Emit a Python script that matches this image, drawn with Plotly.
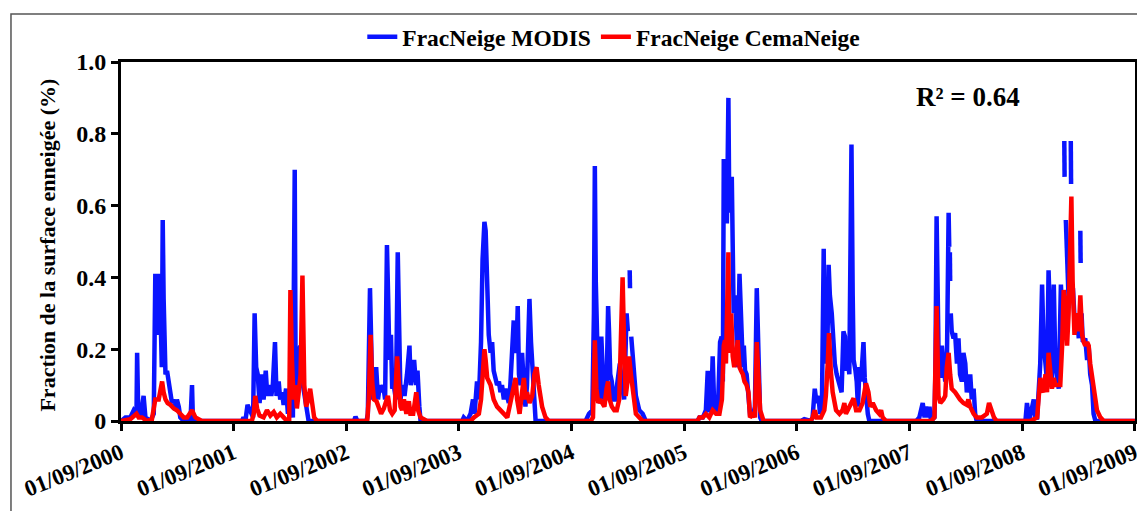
import pandas as pd
import plotly.graph_objects as go

# Season start years (each season runs from 01/09 of that year)
season_years = [2000, 2001, 2002, 2003, 2004, 2005, 2006, 2007, 2008]

# ---- FracNeige MODIS: day offsets from 01/09 and snow cover fraction ----
modis_days_2000 = [0, 14, 30, 41, 50, 52, 55, 63, 73, 79, 95, 106, 111, 117, 122, 127, 132, 135, 138, 144, 149, 154, 160, 165, 171, 176, 181, 187, 192, 203, 225, 230, 233]
modis_vals_2000 = [0, 0.01, 0.01, 0.03, 0.02, 0.19, 0.05, 0.01, 0.07, 0.01, 0, 0.02, 0.41, 0.24, 0.41, 0.34, 0.15, 0.56, 0.34, 0.13, 0.14, 0.11, 0.09, 0.05, 0.06, 0.03, 0.06, 0.04, 0.01, 0, 0, 0.10, 0]

modis_days_2001 = [0, 27, 32, 38, 45, 52, 63, 68, 73, 78, 84, 92, 97, 104, 109, 114, 122, 127, 134, 139, 146, 151, 157, 162, 170, 176, 184, 192, 198, 201, 205, 211, 216, 221, 229, 238, 243]
modis_vals_2001 = [0, 0, 0.01, 0, 0.045, 0.03, 0.01, 0.30, 0.15, 0.13, 0.05, 0.13, 0.06, 0.14, 0.07, 0.10, 0.07, 0.10, 0.22, 0.07, 0.11, 0.06, 0.08, 0.045, 0.09, 0.02, 0.08, 0.01, 0.70, 0.10, 0.06, 0.19, 0.21, 0.12, 0.07, 0.02, 0]

modis_days_2002 = [0, 25, 30, 36, 66, 70, 77, 81, 85, 92, 97, 103, 109, 114, 120, 126, 132, 136, 140, 145, 149, 154, 161, 167, 172, 176, 181, 189, 197, 205, 209, 215, 220, 226, 231, 237, 241]
modis_vals_2002 = [0, 0, 0.012, 0, 0, 0.02, 0.37, 0.10, 0.06, 0.08, 0.15, 0.06, 0.10, 0.08, 0.10, 0.06, 0.49, 0.34, 0.17, 0.24, 0.09, 0.10, 0.06, 0.47, 0.17, 0.06, 0.10, 0.07, 0.13, 0.21, 0.10, 0.15, 0.17, 0.10, 0.14, 0.04, 0]

modis_days_2003 = [0, 11, 16, 27, 38, 46, 51, 59, 65, 72, 77, 83, 87, 92, 97, 103, 108, 113, 119, 124, 130, 135, 140, 146, 151, 157, 162, 167, 173, 178, 181, 187, 191, 195, 200, 205, 211, 216, 221, 229, 234, 240, 245, 249]
modis_vals_2003 = [0, 0, 0.01, 0, 0.02, 0.06, 0.02, 0.11, 0.06, 0.22, 0.45, 0.555, 0.53, 0.33, 0.24, 0.19, 0.22, 0.14, 0.11, 0.10, 0.11, 0.08, 0.10, 0.06, 0.09, 0.07, 0.05, 0.10, 0.22, 0.28, 0.21, 0.19, 0.32, 0.13, 0.10, 0.19, 0.10, 0.04, 0.10, 0.34, 0.22, 0.13, 0.06, 0]

modis_days_2004 = [0, 45, 56, 67, 72, 75, 78, 81, 87, 92, 96, 102, 107, 113, 118, 121, 125, 130, 135, 141, 146, 152, 156, 161, 170, 178, 182, 185, 188, 189, 190, 193, 197, 203, 208, 219, 230, 240]
modis_vals_2004 = [0, 0, 0.02, 0.03, 0.30, 0.71, 0.39, 0.22, 0.07, 0.05, 0.235, 0.11, 0.06, 0.09, 0.32, 0.25, 0.13, 0.11, 0.06, 0.06, 0.09, 0.14, 0.16, 0.11, 0.06, 0.30, 0.25, None, 0.42, 0.37, None, 0.235, 0.18, 0.11, 0.07, 0.03, 0.02, 0]

modis_days_2005 = [0, 43, 49, 60, 65, 70, 76, 81, 87, 92, 97, 103, 109, 116, 121, 125, 128, 131, 134, 138, 140, 143, 146, 149, 154, 157, 160, 165, 169, 173, 179, 184, 190, 193, 197, 202, 208, 213, 224, 229, 235, 240, 246, 251]
modis_vals_2005 = [0, 0, 0.01, 0.01, 0.02, 0.03, 0.14, 0.03, 0.03, 0.18, 0.04, 0.02, 0.03, 0.22, 0.235, 0.11, 0.73, 0.65, 0.71, 0.55, 0.67, 0.90, 0.58, 0.67, 0.68, 0.49, 0.30, 0.35, 0.26, 0.15, 0.41, 0.30, 0.15, 0.21, 0.14, 0.13, 0.06, 0.02, 0.02, 0.04, 0.37, 0.19, 0.01, 0]

modis_days_2006 = [0, 13, 24, 45, 51, 58, 64, 70, 75, 81, 87, 90, 94, 99, 103, 107, 113, 118, 123, 129, 134, 140, 145, 151, 156, 159, 165, 170, 177, 181, 184, 190, 194, 198, 203, 208, 216, 220, 224, 230, 235]
modis_vals_2006 = [0, 0, 0.005, 0, 0.01, 0.09, 0.05, 0.07, 0.02, 0.03, 0.48, 0.16, 0.25, 0.21, 0.435, 0.35, 0.30, 0.21, 0.16, 0.13, 0.11, 0.10, 0.08, 0.25, 0.235, 0.14, 0.18, 0.13, 0.77, 0.35, 0.17, 0.14, 0.11, 0.04, 0.15, 0.11, 0.22, 0.12, 0.07, 0.02, 0]

modis_days_2007 = [0, 22, 32, 43, 49, 54, 60, 65, 70, 81, 84, 88, 94, 100, 105, 110, 116, 121, 127, 129, 130, 131, 132, 133, 134, 137, 143, 148, 154, 159, 164, 170, 175, 181, 186, 191, 197, 202, 208, 213, 218]
modis_vals_2007 = [0, 0, 0.01, 0.05, 0.01, 0.04, 0.01, 0.04, 0, 0.01, 0.13, 0.57, 0.21, 0.12, 0.21, 0.16, 0.11, 0.13, 0.58, 0.485, None, 0.47, 0.39, None, 0.30, 0.25, 0.23, 0.245, 0.16, 0.23, 0.13, 0.11, 0.19, 0.16, 0.08, 0.10, 0.13, 0.06, 0.09, 0.02, 0]

modis_days_2008 = [0, 10, 15, 18, 22, 37, 42, 48, 53, 58, 64, 69, 75, 80, 85, 91, 96, 102, 107, 112, 118, 125, 132, 134, 136, 137, 138, 141, 145, 150, 155, 157, 158, 160, 164, 169, 172, 177, 183, 186, 188, 189, 190, 192, 196, 204, 210, 215, 220, 226, 231, 237]
modis_vals_2008 = [0, 0, 0.05, 0.01, 0, 0.06, 0.01, 0.01, 0.08, 0.16, 0.38, 0.21, 0.16, 0.11, 0.42, 0.25, 0.11, 0.38, 0.16, 0.13, 0.09, 0.38, 0.24, None, 0.78, 0.68, None, 0.56, 0.41, 0.34, None, 0.78, 0.66, None, 0.37, 0.30, 0.24, 0.30, 0.23, None, 0.53, 0.44, None, 0.30, 0.22, 0.23, 0.17, 0.21, 0.13, 0.10, 0.02, 0]

# ---- FracNeige CemaNeige ----
cema_days_2000 = [0, 30, 50, 57, 68, 84, 100, 111, 122, 133, 138, 144, 151, 160, 171, 181, 192, 203, 214, 230, 241, 252, 262]
cema_vals_2000 = [0, 0.005, 0.02, 0.01, 0.01, 0, 0.005, 0.06, 0.06, 0.11, 0.08, 0.06, 0.05, 0.045, 0.035, 0.03, 0.02, 0.01, 0.01, 0.03, 0.01, 0.005, 0]

cema_days_2001 = [0, 59, 65, 70, 76, 84, 97, 108, 119, 130, 140, 151, 162, 173, 180, 184, 189, 194, 200, 205, 211, 217, 223, 229, 235, 242, 248, 254, 261, 270]
cema_vals_2001 = [0, 0, 0.02, 0.07, 0.035, 0.015, 0.01, 0.03, 0.015, 0.025, 0.01, 0.02, 0.01, 0, 0, 0.365, 0.17, 0.06, 0.10, 0.035, 0.08, 0.13, 0.405, 0.10, 0.04, 0.06, 0.09, 0.04, 0.01, 0]

cema_days_2002 = [0, 68, 73, 79, 84, 90, 98, 106, 113, 122, 129, 135, 142, 149, 157, 165, 171, 176, 181, 187, 195, 203, 208, 217, 227, 233, 241, 252, 262]
cema_vals_2002 = [0, 0, 0.06, 0.24, 0.11, 0.06, 0.055, 0.04, 0.02, 0.035, 0.06, 0.07, 0.03, 0.02, 0.03, 0.18, 0.10, 0.04, 0.03, 0.06, 0.02, 0.055, 0.02, 0.02, 0.08, 0.03, 0.01, 0.005, 0]

cema_days_2003 = [0, 38, 49, 65, 72, 77, 83, 87, 92, 103, 113, 124, 135, 146, 157, 167, 178, 184, 189, 197, 205, 211, 216, 221, 229, 238, 245, 252, 259, 270, 281, 292]
cema_vals_2003 = [0, 0, 0.01, 0.02, 0.06, 0.13, 0.20, 0.17, 0.12, 0.10, 0.06, 0.04, 0.03, 0.02, 0.01, 0.05, 0.10, 0.12, 0.06, 0.02, 0.08, 0.12, 0.06, 0.08, 0.05, 0.07, 0.13, 0.15, 0.10, 0.04, 0.01, 0]

cema_days_2004 = [0, 62, 69, 75, 80, 86, 92, 100, 106, 113, 118, 123, 130, 138, 146, 154, 159, 165, 170, 175, 181, 186, 192, 197, 203, 208, 219, 230]
cema_vals_2004 = [0, 0, 0.01, 0.225, 0.09, 0.05, 0.06, 0.05, 0.04, 0.09, 0.11, 0.06, 0.04, 0.03, 0.03, 0.06, 0.21, 0.40, 0.21, 0.07, 0.11, 0.18, 0.13, 0.10, 0.05, 0.02, 0.01, 0]

cema_days_2005 = [0, 43, 49, 60, 70, 81, 92, 103, 114, 122, 128, 132, 135, 140, 143, 146, 149, 152, 157, 162, 168, 173, 179, 184, 190, 195, 202, 208, 213, 224, 229, 235, 240, 246, 257]
cema_vals_2005 = [0, 0, 0.01, 0.01, 0.02, 0.01, 0.03, 0.02, 0.02, 0.06, 0.21, 0.225, 0.16, 0.30, 0.47, 0.21, 0.19, 0.30, 0.18, 0.15, 0.18, 0.225, 0.15, 0.14, 0.13, 0.11, 0.10, 0.08, 0.01, 0.02, 0.01, 0.22, 0.11, 0.03, 0]

cema_days_2006 = [0, 45, 51, 58, 64, 78, 89, 94, 100, 104, 110, 116, 127, 138, 148, 154, 159, 170, 179, 184, 192, 203, 213, 224, 232, 238, 246, 257, 267, 273, 278, 289]
cema_vals_2006 = [0, 0, 0.01, 0.03, 0.01, 0.01, 0.03, 0.07, 0.16, 0.245, 0.14, 0.08, 0.03, 0.02, 0.03, 0.05, 0.02, 0.04, 0.06, 0.063, 0.03, 0.03, 0.05, 0.105, 0.08, 0.04, 0.05, 0.03, 0.02, 0.03, 0.01, 0]

cema_days_2007 = [0, 70, 81, 84, 88, 94, 100, 110, 116, 121, 127, 132, 137, 148, 154, 164, 175, 186, 191, 197, 208, 218, 235, 251, 258, 267, 274, 283]
cema_vals_2007 = [0, 0, 0.01, 0.11, 0.32, 0.07, 0.05, 0.06, 0.07, 0.15, 0.19, 0.13, 0.09, 0.08, 0.07, 0.06, 0.05, 0.045, 0.06, 0.04, 0.02, 0.01, 0.01, 0.02, 0.05, 0.03, 0.01, 0]

cema_days_2008 = [0, 26, 48, 53, 58, 64, 69, 75, 80, 85, 91, 96, 102, 107, 112, 118, 123, 129, 134, 139, 145, 150, 156, 159, 163, 169, 175, 183, 188, 194, 199, 204, 210, 215, 220, 226, 231, 237, 242, 253, 264]
cema_vals_2008 = [0, 0, 0.01, 0.06, 0.12, 0.09, 0.08, 0.13, 0.08, 0.19, 0.11, 0.09, 0.12, 0.10, 0.10, 0.10, 0.10, 0.21, 0.365, 0.33, 0.21, 0.30, 0.53, 0.625, 0.39, 0.24, 0.30, 0.25, 0.35, 0.24, 0.22, 0.21, 0.22, 0.21, 0.16, 0.13, 0.10, 0.06, 0.03, 0.01, 0]

tick_labels = ["01/09/2000", "01/09/2001", "01/09/2002", "01/09/2003", "01/09/2004",
               "01/09/2005", "01/09/2006", "01/09/2007", "01/09/2008", "01/09/2009"]
y_tick_vals = [0, 0.2, 0.4, 0.6, 0.8, 1.0]
y_tick_text = ["0", "0.2", "0.4", "0.6", "0.8", "1.0"]

modis_days = [modis_days_2000, modis_days_2001, modis_days_2002, modis_days_2003, modis_days_2004,
              modis_days_2005, modis_days_2006, modis_days_2007, modis_days_2008]
modis_vals = [modis_vals_2000, modis_vals_2001, modis_vals_2002, modis_vals_2003, modis_vals_2004,
              modis_vals_2005, modis_vals_2006, modis_vals_2007, modis_vals_2008]
cema_days = [cema_days_2000, cema_days_2001, cema_days_2002, cema_days_2003, cema_days_2004,
             cema_days_2005, cema_days_2006, cema_days_2007, cema_days_2008]
cema_vals = [cema_vals_2000, cema_vals_2001, cema_vals_2002, cema_vals_2003, cema_vals_2004,
             cema_vals_2005, cema_vals_2006, cema_vals_2007, cema_vals_2008]


def build(days_list, vals_list):
    xs, ys = [], []
    for yr, dd, vv in zip(season_years, days_list, vals_list):
        assert len(dd) == len(vv), (yr, len(dd), len(vv))
        start = pd.Timestamp(f"{yr}-09-01")
        for d, v in zip(dd, vv):
            xs.append(start + pd.Timedelta(days=d))
            ys.append(v)
    xs.append(pd.Timestamp("2009-09-01"))
    ys.append(0)
    return xs, ys


mx, my = build(modis_days, modis_vals)
cx, cy = build(cema_days, cema_vals)

FONT = "Liberation Serif"

fig = go.Figure()
fig.add_trace(go.Scatter(x=mx, y=my, mode="lines", name="FracNeige MODIS",
                         line=dict(color="#0a14ff", width=4.5), connectgaps=False))
fig.add_trace(go.Scatter(x=cx, y=cy, mode="lines", name="FracNeige CemaNeige",
                         line=dict(color="#ff0000", width=4.5)))

tick_dates = [pd.Timestamp(f"{y}-09-01") for y in range(2000, 2010)]
x_range = [pd.Timestamp("2000-09-01") - pd.Timedelta(hours=6),
           pd.Timestamp("2009-09-01") + pd.Timedelta(hours=6)]

fig.update_layout(
    width=1137, height=511,
    margin=dict(l=121, r=2, t=62, b=90, autoexpand=False),
    paper_bgcolor="white", plot_bgcolor="white",
    font=dict(family=FONT, color="black", size=22, weight="bold"),
    showlegend=True,
    legend=dict(orientation="h", x=0.486, xanchor="center", y=1.07, yanchor="middle",
                font=dict(family=FONT, size=23.5, color="black", weight="bold"),
                bgcolor="rgba(0,0,0,0)"),
    xaxis=dict(type="date", range=x_range, automargin=False,
               tickmode="array", tickvals=tick_dates, ticktext=tick_labels,
               tickangle=-22, ticks="outside", ticklen=7, tickwidth=3, tickcolor="black",
               ticklabeloverflow="allow",
               showline=True, linecolor="black", linewidth=3, mirror=True,
               showgrid=False, zeroline=False,
               tickfont=dict(family=FONT, size=23, color="black", weight="bold")),
    yaxis=dict(range=[0, 1], automargin=False, tickmode="array", tickvals=y_tick_vals,
               ticktext=y_tick_text,
               ticks="outside", ticklen=7, tickwidth=3, tickcolor="black",
               showline=True, linecolor="black", linewidth=3, mirror=True,
               showgrid=False, zeroline=False,
               tickfont=dict(family=FONT, size=24, color="black", weight="bold")),
    annotations=[
        dict(text="Fraction de la surface enneigée (%)", xref="paper", yref="paper",
             x=-0.0725, y=0.49, xanchor="center", yanchor="middle", textangle=-90,
             showarrow=False,
             font=dict(family=FONT, size=22, color="black", weight="bold")),
        dict(text="R² = 0.64", xref="paper", yref="paper", x=0.835, y=0.9025,
             xanchor="center", yanchor="middle",
             showarrow=False, font=dict(family=FONT, size=27, color="black", weight="bold")),
    ],
    shapes=[
        dict(type="rect", xref="paper", yref="paper", x0=-0.1085, x1=1.01, y0=-0.4, y1=1.1337,
             line=dict(color="#555555", width=1.5), fillcolor="rgba(0,0,0,0)", layer="below"),
    ],
)

fig.write_html("out.html", config={"displayModeBar": False},
               post_script="document.body.style.margin='0';document.body.style.overflow='hidden';")
